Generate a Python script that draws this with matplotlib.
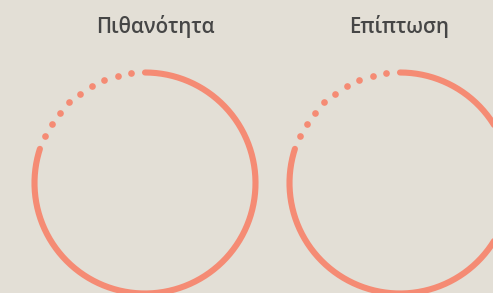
import numpy as np
import matplotlib
matplotlib.use("Agg")
import matplotlib.pyplot as plt

# Data
judul = ["Πιθανότητα", "Επίπτωση"]
nilai = [80, 80]          # persen busur solid
pusat_x = [145, 400]      # pusat lingkaran (piksel)
judul_x = [155, 399]

warna_latar = "#e3dfd6"
warna_cincin = "#f58b74"
warna_teks = "#464646"

pusat_y = 183
jari = 110.5

fig = plt.figure(figsize=(4.93, 2.93), dpi=100, facecolor=warna_latar)
ax = fig.add_axes([0, 0, 1, 1])
ax.set_facecolor(warna_latar)
ax.set_xlim(0, 493)
ax.set_ylim(293, 0)
ax.set_aspect("equal")
ax.axis("off")

for label, v, cx, tx in zip(judul, nilai, pusat_x, judul_x):
    # busur solid, searah jarum jam dari atas
    sudut_akhir = 90 - 360 * v / 100
    t = np.radians(np.linspace(90, sudut_akhir, 400))
    ax.plot(cx + jari * np.cos(t), pusat_y - jari * np.sin(t),
            color=warna_cincin, lw=4.4, solid_capstyle="round")
    # sisa busur sebagai titik-titik
    sisa = 360 * (100 - v) / 100
    td = np.radians(90 + np.linspace(0, sisa, 11)[1:-1])
    ax.plot(cx + jari * np.cos(td), pusat_y - jari * np.sin(td),
            ls="none", marker="o", ms=4.8, color=warna_cincin, mew=0)
    ax.text(tx, 27, label, ha="center", va="center", fontsize=14.8,
            fontweight="semibold", color=warna_teks, family="Open Sans")

fig.savefig("out.png", dpi=100, facecolor=warna_latar)
